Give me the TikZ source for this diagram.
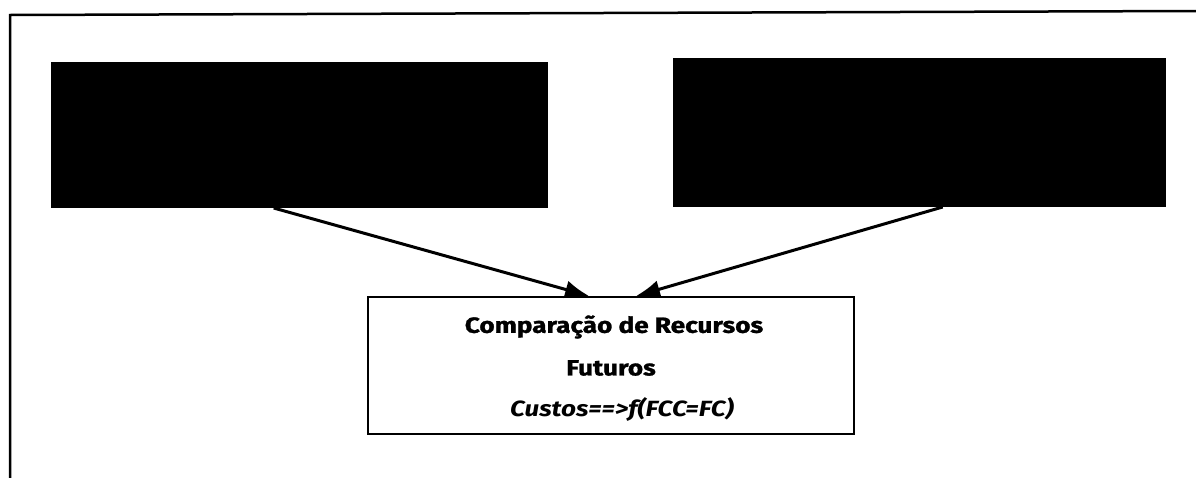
\documentclass[tikz,border=0pt]{standalone}
\usepackage{fontspec}
\setmainfont{Fira Sans}[BoldFeatures={FakeBold=1.2}]
\usetikzlibrary{arrows.meta,calc}
\newcommand{\wide}[1]{\scalebox{1.19}[1]{#1}}
\tikzset{
  blackbox/.style={draw=black,fill=black,line width=1pt,inner sep=0pt,anchor=north west},
  resultbox/.style={draw=black,line width=2.2pt,inner sep=0pt,anchor=north west,align=center},
  boxtext/.style={font=\bfseries\fontsize{22}{22}\selectfont},
  feed/.style={line width=3pt,-{Latex[length=24pt,width=18pt]}},
  frameline/.style={line width=2.5pt,line cap=rect}
}
\begin{document}
\begin{tikzpicture}[x=1pt,y=-1pt]
\useasboundingbox (0,0) rectangle (1196,477);
% outer frame
\coordinate (fl) at (10,477);
\coordinate (fc) at (10,15);
\coordinate (fr) at (1196,11);
\draw[frameline] (fl) -- (fc) -- (fr);
% boxes
\node[blackbox,minimum width=496pt,minimum height=145pt] (L) at (51,62) {};
\node[blackbox,minimum width=492pt,minimum height=148pt] (R) at (673,58) {};
\node[resultbox,minimum width=486pt,minimum height=137pt] (C) at (367,296) {};
\node[boxtext] (t1) at (614,327) {\wide{Comparação de Recursos}};
\node[boxtext] (t2) at (611,368) {\wide{Futuros}};
\node[boxtext,font=\bfseries\itshape\fontsize{22}{22}\selectfont] (t3) at (622,409) {\wide{Custos==>f(FCC=FC)}};
% connectors
\draw[feed] ($(L.south west)!0.448!(L.south east)$) -- ($(C.north west)!0.455!(C.north east)$);
\draw[feed] ($(R.south west)!0.547!(R.south east)$) -- ($(C.north west)!0.551!(C.north east)$);
\end{tikzpicture}
\end{document}
